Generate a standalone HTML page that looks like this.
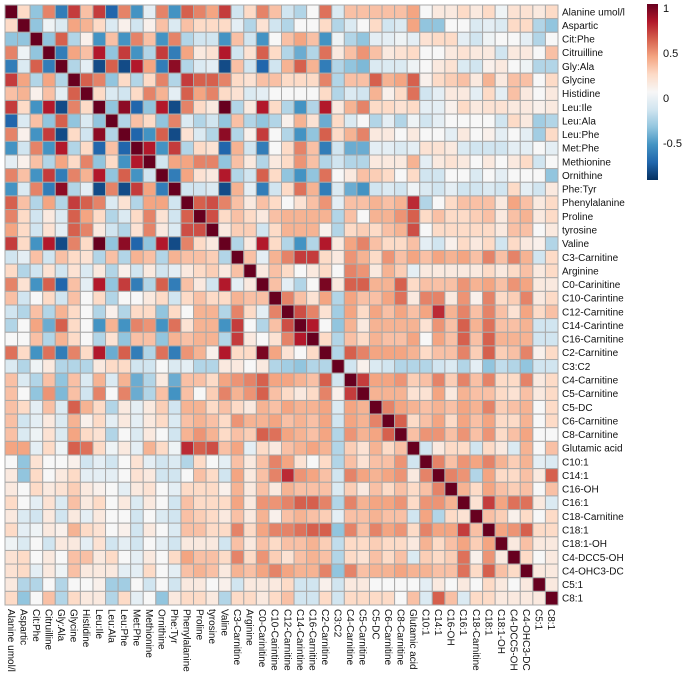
<!DOCTYPE html>
<html><head><meta charset="utf-8"><style>
body{margin:0;background:#fff;}
svg{display:block;font-family:"Liberation Sans",sans-serif;}
</style></head><body>
<svg id="chart" width="685" height="681"></svg>
<script>
const labels=["Alanine umol/l","Aspartic","Cit:Phe","Citruilline","Gly:Ala","Glycine","Histidine","Leu:Ile","Leu:Ala","Leu:Phe","Met:Phe","Methionine","Ornithine","Phe:Tyr","Phenylalanine","Proline","tyrosine","Valine","C3-Carnitine","Arginine","C0-Carinitine","C10-Carintine","C12-Carnitine","C14-Carintine","C16-Carnitine","C2-Carnitine","C3:C2","C4-Carnitine","C5-Carnitine","C5-DC","C6-Carnitine","C8-Carnitine","Glutamic acid","C10:1","C14:1","C16-OH","C16:1","C18-Carnitine","C18:1","C18:1-OH","C4-DCC5-OH","C4-OHC3-DC","C5:1","C8:1"];
const rowsA=[
[1,.2,-.4,.5,-.7,.7,.3,.7,-.8,.5,-.6,-.1,.5,-.6,.6,.5,.4,.7,-.1,.2,.5],
[.2,1,-.4,-.05,-.15,.4,.35,.2,-.15,.05,-.2,.05,.3,-.15,.3,.2,.2,.2,.05,-.3,.15],
[-.4,-.4,1,-.4,.6,-.3,.05,-.6,.3,-.6,.5,.3,-.6,.5,-.3,-.2,-.2,-.6,.3,-.2,-.6],
[.5,-.05,-.4,1,-.7,.4,.3,.8,-.4,.7,-.6,-.3,.7,-.7,.4,.1,.15,.8,-.3,.15,.6],
[-.7,-.15,.6,-.7,1,-.3,-.1,-.9,.6,-.9,.8,.4,-.7,.9,-.3,-.15,-.1,-.9,.4,-.1,-.8],
[.7,.4,-.3,.4,-.3,1,.6,.5,-.4,.2,-.3,.2,.5,-.3,.7,.6,.6,.5,.2,.3,.4],
[.3,.35,.05,.3,-.1,.6,1,.2,-.15,-.2,.2,.5,.35,-.1,.6,.4,.5,.2,.2,-.15,-.1],
[.7,.2,-.6,.8,-.9,.5,.2,1,-.4,.9,-.8,-.4,.8,-.9,.5,.2,.1,1,-.3,.1,.8],
[-.8,-.15,.3,-.4,.6,-.4,-.15,-.4,1,-.3,.3,.2,-.4,.5,-.15,-.3,-.2,-.4,.3,-.3,-.4],
[.5,.05,-.6,.7,-.9,.2,-.2,.9,-.3,1,-.8,-.6,.6,-.9,.15,-.15,-.3,.9,-.4,.05,.7],
[-.6,-.2,.5,-.6,.8,-.3,.2,-.8,.3,-.8,1,.8,-.6,.7,-.3,.2,.15,-.8,.35,-.1,-.7],
[-.1,.05,.3,-.3,.4,.2,.5,-.4,.2,-.6,.8,1,-.2,.4,.4,.5,.5,-.4,.3,.25,-.3],
[.5,.3,-.6,.7,-.7,.5,.35,.8,-.4,.6,-.6,-.2,1,-.7,.4,.15,.1,.8,-.3,-.2,.6],
[-.6,-.15,.5,-.7,.9,-.3,-.1,-.9,.5,-.9,.7,.4,-.7,1,-.2,-.2,-.15,-.9,.35,-.1,-.7],
[.6,.3,-.3,.4,-.3,.7,.6,.5,-.15,.15,-.3,.4,.4,-.2,1,.6,.65,.5,.3,.25,.3],
[.5,.2,-.2,.1,-.15,.6,.4,.2,-.3,-.15,.2,.5,.15,-.2,.6,1,.65,.2,.3,.2,.1],
[.4,.2,-.2,.15,-.1,.6,.5,.1,-.2,-.3,.15,.5,.1,-.15,.65,.65,1,.1,.2,.1,-.2],
[.7,.2,-.6,.8,-.9,.5,.2,1,-.4,.9,-.8,-.4,.8,-.9,.5,.2,.1,1,-.3,.1,.8],
[-.2,-.1,.3,-.2,.3,.2,.15,-.3,.3,-.3,.35,.3,-.3,.35,.3,.3,.25,-.3,1,.3,-.1],
[.2,-.3,-.2,.15,-.2,.15,-.15,.1,-.3,.05,-.2,.1,-.2,-.1,.1,.2,.25,.1,.3,1,.1],
[.5,.15,-.6,.6,-.8,.3,-.1,.8,-.4,.7,-.7,-.3,.6,-.7,.3,.1,-.2,.8,-.1,.1,1],
[.3,-.2,0,.2,-.2,.3,0,.2,-.3,0,0,.1,.2,-.2,.2,.3,.2,.2,.35,.3,.3],
[-.2,-.3,.3,-.3,.35,.2,0,-.3,.05,-.3,.2,.2,-.4,.2,0,.35,.35,-.3,.5,.2,-.1],
[-.3,0,.4,-.5,.6,.2,0,-.6,.35,-.6,.5,.45,-.6,.55,.15,.35,.35,-.6,.7,0,-.3],
[0,0,.3,-.3,.35,.2,0,-.3,.15,-.4,.3,.3,-.4,.35,.3,.35,.35,-.3,.7,.1,0],
[.55,.2,-.6,.55,-.7,.5,.2,.8,-.5,.6,-.7,-.3,.55,-.7,.45,.35,.05,.8,.2,.2,.95],
[-.15,-.3,-.05,.1,-.3,-.3,-.3,.1,.2,.2,-.2,-.2,0,-.15,-.1,-.3,-.3,.1,.1,0,.1],
[.3,-.15,-.3,.3,-.4,.3,-.15,.35,-.15,.35,-.5,-.3,.1,-.5,.3,.3,.2,.4,.45,.5,.6],
[.3,0,-.4,.45,-.45,.3,-.2,.5,0,.5,-.5,-.3,.3,-.6,.3,0,.25,.5,.35,.45,.6],
[.3,.2,-.1,.3,-.15,.6,.35,.2,-.3,.1,-.1,.1,.25,-.2,.35,.35,.2,.3,.2,.1,.35],
[.3,-.2,-.1,.1,-.15,.35,.05,.2,-.1,.1,-.1,.1,.2,-.15,.3,.35,.3,.2,.45,.35,.35],
[.3,-.15,-.05,.15,-.15,.4,.2,.15,-.3,0,-.15,.1,0,-.2,.35,.45,.35,.2,.3,.25,.6],
[.4,.4,-.1,.2,-.05,.6,.55,.2,-.05,.1,-.1,.35,.2,-.05,.75,.6,.65,.3,.4,-.1,.2],
[0,-.4,.15,0,0,.05,-.2,-.1,-.2,0,.15,-.1,-.2,-.15,-.3,.2,0,-.1,.3,.1,.3],
[.1,-.4,.2,0,.1,.2,-.1,-.1,-.1,0,.15,.1,-.2,-.2,0,.3,.2,-.2,.4,.1,.3],
[.1,0,.2,.1,.15,.25,.1,.05,0,-.1,.1,.15,0,-.1,.2,.2,.2,.05,.35,.1,.3],
[.2,0,-.1,.15,-.15,.3,.1,.2,0,.1,-.15,.1,0,-.2,.3,.2,.2,.2,.4,.1,.45],
[.1,-.15,-.2,.1,-.2,.1,-.1,.1,0,0,-.2,0,-.15,-.2,.3,.25,.2,.1,.3,.1,.35],
[.2,-.1,-.05,.1,.05,.35,.2,.15,0,.05,-.2,.1,0,-.15,.3,.3,.2,.2,.5,.2,.4],
[-.05,-.15,0,-.2,.1,.1,-.1,.15,-.2,-.1,-.2,0,-.1,-.2,.1,.1,.1,-.2,.3,.1,.3],
[.15,.2,0,.1,0,.3,.3,.1,.2,0,-.1,.1,0,.2,.4,.3,.3,.2,.5,.2,.45],
[.15,.2,-.1,.1,-.05,.3,.1,.1,.1,-.1,-.1,.2,0,-.1,.3,.35,.3,.1,.35,.3,.4],
[.1,-.3,-.3,0,-.3,0,0,.05,-.35,-.35,0,-.2,0,-.2,.1,.1,0,.05,-.2,.1,.1],
[.2,-.4,0,.3,-.3,.2,.1,.1,-.3,.2,-.1,0,-.4,.1,.2,.2,.1,-.3,.2,.2,.1]];
const rowsB=[
[1],
[.5,1],
[.3,.65,1],
[.15,.5,.8,1],
[.4,.15,0,.2,1],
[-.3,-.35,-.4,-.3,-.3,1],
[.4,.4,.35,.3,.6,-.2,1],
[.3,.2,.1,.2,.5,.05,.7,1],
[.3,.4,.35,.35,.4,-.15,.4,.35,1],
[.4,.3,.35,.3,.4,-.2,.4,.35,.5,1],
[.55,.4,.35,.3,.4,-.3,.45,.35,.4,.6,1],
[.1,.3,.35,.4,.35,-.3,.25,.15,.35,.2,.3,1],
[.5,.4,.15,0,.2,-.3,.3,.15,.3,.3,.45,-.2,1],
[.5,.75,.45,.4,.3,-.2,.5,.4,.35,.4,.45,.1,.5,1],
[.1,.35,.3,.3,.3,-.15,.25,.1,.3,.2,.3,.2,.3,.5,1],
[.45,.5,.6,.6,.5,-.3,.5,.35,.4,.4,.45,.2,.45,.45,.35,1],
[.05,.3,.35,.3,.25,-.1,.3,.3,.35,.3,.3,-.2,.4,-.3,.2,.15,1],
[.5,.5,.55,.6,.6,-.4,.5,.3,.5,.4,.45,.2,.5,.4,.4,.7,.3,1],
[.2,.3,.3,.35,.25,-.25,.2,.2,.25,.2,.2,.1,.35,.2,.3,.4,.25,.4,1],
[.25,.15,.3,.35,.3,-.3,.2,.15,.3,.2,.3,-.15,.25,.2,.25,.55,.05,.45,.1,1],
[.5,.4,.35,.35,.5,-.4,.5,.3,.35,.35,.4,.35,.35,.3,.3,.55,.2,.6,.3,.2,1],
[.1,.2,-.2,-.2,.05,-.2,.1,.1,0,0,0,0,-.1,.1,0,.1,0,.2,.1,0,.1,1],
[.2,.3,-.2,-.2,.2,-.2,.2,.2,.2,.2,0,.3,-.15,.6,.3,-.15,.2,.2,.1,.1,.1,.1,1]];
const tickVals=[1,0.5,0,-0.5];
const tickLabels=["1","0.5","0","-0.5"];

const N=labels.length, X0=5, Y0=5, CW=(558-5)/N, CH=(605-5)/N;
function val(i,j){ if(i<j){const t=i;i=j;j=t;}
  if(j<21) return i===j?1:rowsA[i][j];
  return rowsB[i-21][j-21]; }
const stops=[[-1,[5,48,97]],[-.8,[33,102,172]],[-.6,[67,147,195]],[-.4,[146,197,222]],[-.2,[209,229,240]],[0,[247,247,247]],[.2,[253,219,199]],[.4,[244,165,130]],[.6,[214,96,77]],[.8,[178,24,43]],[1,[103,0,31]]];
function color(v){v=Math.max(-1,Math.min(1,v));for(let k=0;k<stops.length-1;k++){const a=stops[k],b=stops[k+1];if(v<=b[0]){const t=(v-a[0])/(b[0]-a[0]);const c=a[1].map((x,i)=>Math.round(x+(b[1][i]-x)*t));return `rgb(${c})`;}}return 'rgb(103,0,31)';}
const xs=j=>X0+j*CW, ys=i=>Y0+i*CH;
const svg=document.getElementById('chart'), NS='http://www.w3.org/2000/svg';
function mk(t,a,p){const e=document.createElementNS(NS,t);for(const k in a)e.setAttribute(k,a[k]);(p||svg).appendChild(e);return e;}
const g=mk('g',{});


for(let i=0;i<N;i++)for(let j=0;j<N;j++){
  const r=mk('rect',{x:xs(j),y:ys(i),width:CW,height:CH,fill:color(val(i,j)),stroke:'#a9a9a9','stroke-width':1},g);
  
  
}
for(let i=0;i<N;i++){
  const t=mk('text',{x:562,y:ys(i)+CH/2+3.5,'font-size':10,fill:'#111'});
  t.textContent=labels[i];
  
  
  const cx=xs(i)+CW/2-3.5;
  const c=mk('text',{x:0,y:0,'font-size':10,fill:'#111',transform:`translate(${cx},609) rotate(90)`});
  c.textContent=labels[i];
  
  
}
// colorbar
const defs=mk('defs',{});const lg=mk('linearGradient',{id:'cb',x1:0,y1:0,x2:0,y2:1},defs);
for(let k=stops.length-1;k>=0;k--){mk('stop',{offset:(1-stops[k][0])/2,'stop-color':color(stops[k][0])},lg);}
const cbTop=4,cbBot=180;
const cb=mk('rect',{x:647,y:cbTop,width:11,height:cbBot-cbTop,fill:'url(#cb)'});


const cy=v=>98-v*90;
tickVals.forEach((v,k)=>{const t=mk('text',{x:663,y:cy(v)+4,'font-size':11,fill:'#111'});t.textContent=tickLabels[k];
  
  });
</script>
</body></html>
